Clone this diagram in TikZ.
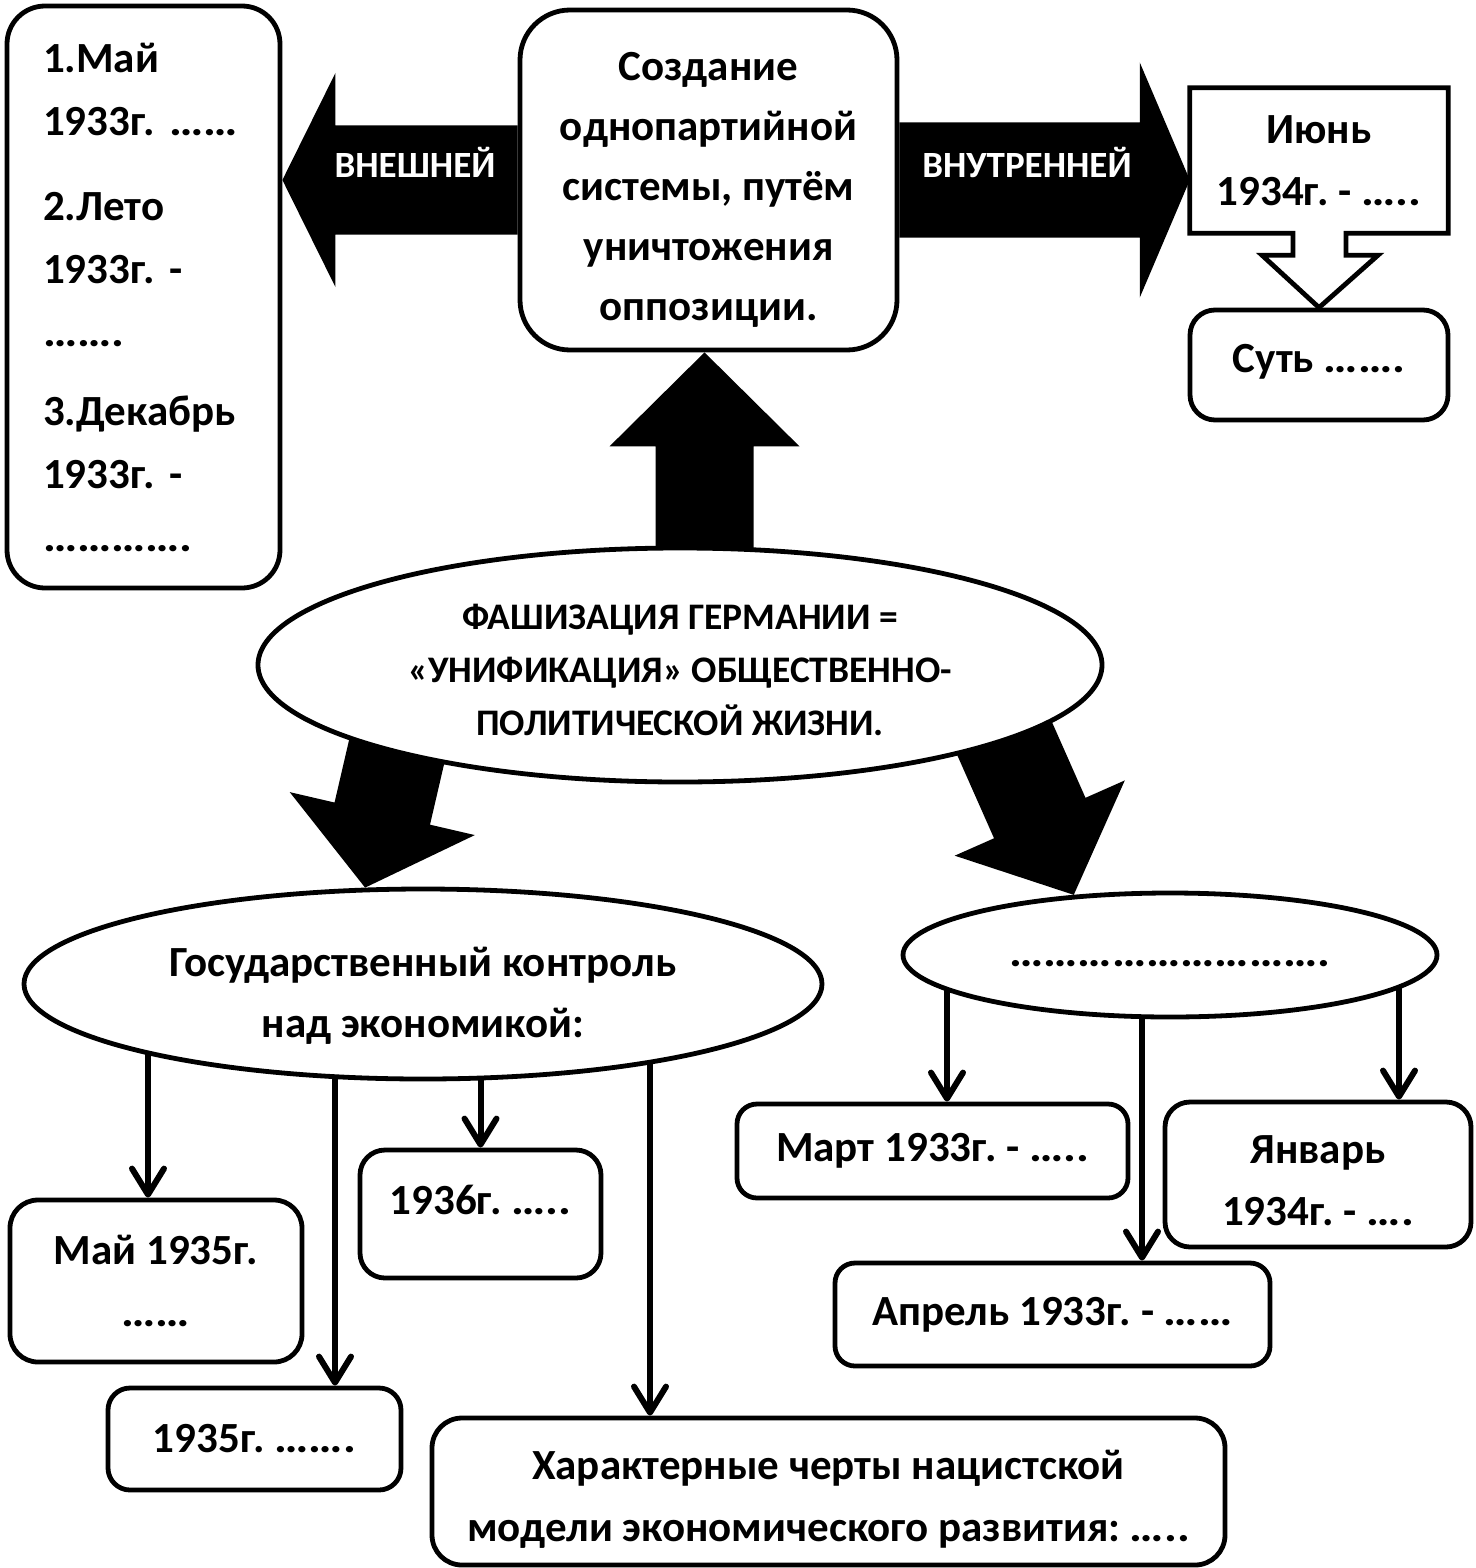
\documentclass[tikz,border=0pt]{standalone}
\usepackage{fontspec}
\setmainfont{Carlito}
\newfontfamily\dotf{Carlito}[FakeStretch=1.12]
\usetikzlibrary{shapes.geometric,arrows.meta,calc}
\pgfdeclarelayer{back}
\pgfdeclarelayer{bg}
\pgfsetlayers{back,bg,main}
\frenchspacing
\newcommand\fnt[2]{\fontsize{#1}{#2}\selectfont\bfseries\frenchspacing}
\newcommand\dd[1]{{\dotf #1}}
% #1 tail, #2 tip, #3 shaft half width, #4 head half width, #5 head length
\newcommand\bigarrow[5]{%
  \coordinate (ba-h) at ($(#2)!#5!(#1)$);
  \fill[black] ($(#1)!#3!90:(#2)$) -- ($(ba-h)!#3!90:(#2)$) -- ($(ba-h)!#4!90:(#2)$) -- (#2)
    -- ($(ba-h)!#4!-90:(#2)$) -- ($(ba-h)!#3!-90:(#2)$) -- ($(#1)!#3!-90:(#2)$) -- cycle;}
\begin{document}
\begin{tikzpicture}[x=1pt,y=-1pt,
  box/.style={draw, line width=4.8pt, fill=white, rounded corners=#1, inner sep=0pt, align=center},
  ell/.style={draw, ellipse, line width=4.8pt, fill=white, inner sep=0pt, align=center},
  tarrow/.style={line width=6pt, -{Straight Barb[length=26pt,width=32pt,round]}}]
\begin{pgfonlayer}{back}
  \fill[white] (0,0) rectangle (1475,1568);
\end{pgfonlayer}
\useasboundingbox (0,0) rectangle (1475,1568);

% ---- nodes ----
\node[box=38pt, minimum width=273pt, minimum height=582pt, text width=201pt, align=left, font=\fnt{43}{63}] (list) at (143.5,297)
  {1.Май\\1933г. \dd{……}\\[22pt]2.Лето\\1933г. -\\\dd{…….}\\[16pt]3.Декабрь\\1933г. -\\\dd{………….}};
\node[box=50pt, minimum width=377pt, minimum height=340pt, font=\fnt{43}{60}, text height=288pt] (cbox) at (708.5,180)
  {Создание\\однопартийной\\системы, путём\\уничтожения\\оппозиции.};
\node[minimum width=258pt, minimum height=145pt, inner sep=0pt, align=center, font=\fnt{43}{62}] (jun) at (1319,160.5)
  {Июнь\\1934г. - \dd{…..}};
\node[box=25pt, minimum width=258pt, minimum height=110pt, font=\fnt{43}{48}, text height=29pt, text depth=15pt] (sut) at (1319,365)
  {Суть \dd{…….}};
\node[font=\fnt{37}{40}, text=white, inner sep=0pt] (vn) at (415,162) {ВНЕШНЕЙ};
\node[font=\fnt{37}{40}, text=white, inner sep=0pt] (vt) at (1027,162) {ВНУТРЕННЕЙ};
\node[ell, minimum width=844pt, minimum height=234pt, font=\fnt{37.5}{53}, text height=141pt] (main) at (680,665)
  {ФАШИЗАЦИЯ ГЕРМАНИИ =\\«УНИФИКАЦИЯ» ОБЩЕСТВЕННО-\\ПОЛИТИЧЕСКОЙ ЖИЗНИ.};
\node[ell, minimum width=798pt, minimum height=190pt, font=\fnt{43}{61}, text height=114pt] (gos) at (423,984)
  {Государственный контроль\\над экономикой:};
\node[ell, minimum width=534pt, minimum height=124pt, font=\fnt{43}{48}, text height=22pt, text depth=0pt] (dots) at (1170,955)
  {\dd{……………………….}};
\node[box=28pt, minimum width=292pt, minimum height=162pt, font=\fnt{43}{62}] (may) at (156,1281) {Май 1935г.\\\dd{……}};
\node[box=25pt, minimum width=241pt, minimum height=128pt, font=\fnt{43}{48}, text height=30pt, text depth=30pt] (b36) at (480.5,1214) {1936г. \dd{…..}};
\node[box=22pt, minimum width=293pt, minimum height=102pt, font=\fnt{43}{48}] (b35) at (254.5,1439) {1935г. \dd{…….}};
\node[box=30pt, minimum width=793pt, minimum height=147pt, font=\fnt{43}{62}, text height=106pt] (har) at (828.5,1491.5)
  {Характерные черты нацистской\\модели экономического развития: \dd{…..}};
\node[box=20pt, minimum width=391pt, minimum height=94pt, font=\fnt{43}{48}] (mar) at (932.5,1151) {Март 1933г. - \dd{…..}};
\node[box=25pt, minimum width=306pt, minimum height=145pt, font=\fnt{43}{62}, text height=103pt] (jan) at (1318,1174.5) {Январь\\1934г. - \dd{….}};
\node[box=20pt, minimum width=435pt, minimum height=103pt, font=\fnt{43}{48}] (apr) at (1052.5,1314.5) {Апрель 1933г. - \dd{……}};

% ---- connectors ----
\begin{pgfonlayer}{bg}
  \coordinate (lA) at (cbox.west |- 0,180);
  \coordinate (lB) at (list.east |- 0,180);
  \bigarrow{lA}{lB}{54.5pt}{107pt}{53pt}
  \coordinate (rA) at (cbox.east |- 0,180);
  \coordinate (rB) at (jun.west |- 0,180);
  \bigarrow{rA}{rB}{57.5pt}{117.5pt}{50pt}
  \coordinate (uB) at ($(cbox.south)+(-4,0)$);
  \coordinate (uA) at (uB |- main.center);
  \bigarrow{uA}{uB}{49pt}{95pt}{94pt}
  \coordinate (dlT) at (gos.121);
  \coordinate (dlA) at ($(dlT)+(42,-181)$);
  \bigarrow{dlA}{dlT}{49pt}{95pt}{76pt}
  \coordinate (drT) at (dots.148);
  \coordinate (drA) at ($(drT)+(-77,-174)$);
  \bigarrow{drA}{drT}{50pt}{93pt}{84pt}
  % callout outline of the June box
  \filldraw[fill=white, line width=4.8pt, line join=miter] (jun.north west) -- (jun.north east) -- (jun.south east)
    -- ($(jun.south)+(27,0)$) -- ++(0,22) -- ++(32,0) -- (sut.north) -- ($(jun.south)+(-57,22)$) -- ++(31,0) -- ++(0,-22)
    -- (jun.south west) -- cycle;
  % thin arrows
  \coordinate (g1) at ($(may.north)+(-8,0)$);
  \draw[tarrow] (g1 |- gos.center) -- (g1);
  \coordinate (g2) at ($(b35.north)+(80.5,0)$);
  \draw[tarrow] (g2 |- gos.center) -- (g2);
  \draw[tarrow] (b36.north |- gos.center) -- (b36.north);
  \coordinate (g4) at ($(har.north)+(-178.5,0)$);
  \draw[tarrow] (g4 |- gos.center) -- (g4);
  \coordinate (d1) at ($(mar.north)+(14.5,0)$);
  \draw[tarrow] (d1 |- dots.center) -- (d1);
  \coordinate (d2) at ($(apr.north)+(89.5,0)$);
  \draw[tarrow] (d2 |- dots.center) -- (d2);
  \coordinate (d3) at ($(jan.north)+(81,0)$);
  \draw[tarrow] (d3 |- dots.center) -- (d3);
\end{pgfonlayer}
\end{tikzpicture}
\end{document}
